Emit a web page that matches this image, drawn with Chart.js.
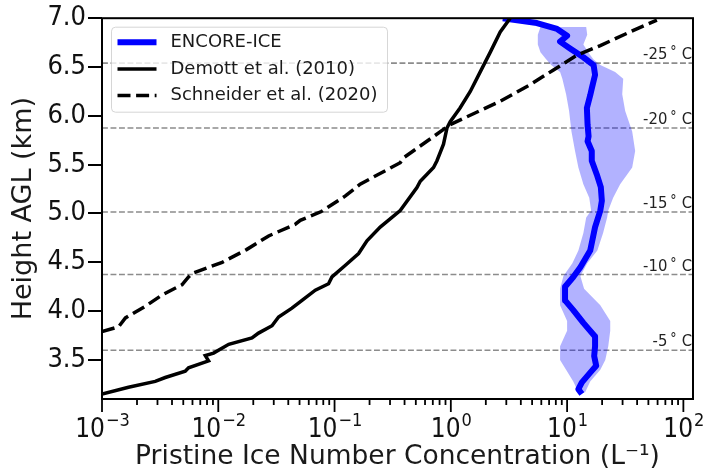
<!DOCTYPE html>
<html>
<head>
<meta charset="utf-8">
<script src="https://cdn.jsdelivr.net/npm/chart.js@4.4.1/dist/chart.umd.min.js"></script>
<style>
  html, body { margin: 0; padding: 0; background: #fff; }
  canvas { display: block; }
</style>
</head>
<body>
<canvas id="chart" width="709" height="473" style="width:709px;height:473px"></canvas>
<script>
const NARROW = "'DejaVu Sans Condensed', 'DejaVu Sans', sans-serif";
const FONT = "'DejaVu Sans', sans-serif";

// ENCORE-ICE median pristine ice profile (height km, concentration per litre)
const encoreHeight = [7.00, 6.95, 6.89, 6.82, 6.76, 6.69, 6.60, 6.52, 6.42, 6.28, 6.21, 6.08, 5.91, 5.79, 5.74, 5.64, 5.54, 5.40, 5.27, 5.13, 5.03, 4.86, 4.62, 4.45, 4.35, 4.25, 4.11, 4.01, 3.88, 3.74, 3.64, 3.54, 3.44, 3.37, 3.27, 3.20, 3.15];
const encoreConc   = [2.8, 5.5, 8.2, 10.0, 8.7, 10.6, 13.8, 16.9, 17.4, 16.3, 15.8, 14.8, 15.0, 15.3, 15.0, 16.3, 16.3, 18.0, 19.5, 19.9, 19.3, 17.4, 15.8, 13.0, 11.3, 9.6, 9.6, 11.3, 13.8, 17.4, 17.4, 17.1, 17.8, 15.8, 13.4, 12.5, 13.4];

// ENCORE-ICE spread (lower / upper bound at each height)
const bandHeight = [6.91, 6.83, 6.73, 6.65, 6.58, 6.52, 6.45, 6.38, 6.22, 6.05, 5.84, 5.64, 5.47, 5.30, 5.16, 5.03, 4.96, 4.80, 4.62, 4.49, 4.36, 4.23, 4.06, 3.90, 3.80, 3.64, 3.50, 3.40, 3.28, 3.17];
const bandLow      = [5.9, 5.6, 5.6, 5.9, 6.6, 7.3, 8.7, 9.1, 9.8, 10.4, 10.9, 11.7, 12.5, 13.8, 15.5, 16.1, 14.6, 13.8, 12.5, 11.1, 9.3, 8.7, 8.7, 10.0, 10.0, 8.7, 8.7, 9.8, 11.3, 12.5];
const bandHigh     = [14.6, 14.9, 13.8, 15.2, 16.8, 19.3, 25.9, 30.4, 29.8, 31.6, 36.3, 38.5, 36.3, 28.6, 24.9, 22.6, 22.1, 20.4, 18.2, 14.9, 13.0, 14.0, 19.3, 23.5, 23.5, 22.6, 21.3, 19.3, 15.8, 14.3];

// DeMott et al. (2010) parameterisation
const demottHeight = [3.15, 3.22, 3.28, 3.32, 3.385, 3.42, 3.49, 3.545, 3.57, 3.66, 3.725, 3.775, 3.85, 3.94, 4.03, 4.11, 4.215, 4.28, 4.35, 4.47, 4.59, 4.72, 4.86, 5.03, 5.265, 5.33, 5.47, 5.54, 5.71, 5.875, 5.94, 6.08, 6.25, 6.45, 6.65, 6.86, 7.00];
const demottConc   = [0.00100, 0.00169, 0.00287, 0.00350, 0.00520, 0.00555, 0.00825, 0.00773, 0.00911, 0.0123, 0.0195, 0.0222, 0.0290, 0.0330, 0.0430, 0.0525, 0.0683, 0.0888, 0.0950, 0.124, 0.161, 0.190, 0.247, 0.367, 0.511, 0.546, 0.710, 0.760, 0.865, 0.926, 0.988, 1.20, 1.47, 1.79, 2.18, 2.66, 3.24];

// Schneider et al. (2020) parameterisation
const schneiderHeight = [3.79, 3.84, 3.93, 4.05, 4.165, 4.27, 4.35, 4.385, 4.50, 4.63, 4.77, 4.89, 4.93, 5.02, 5.18, 5.30, 5.52, 5.57, 5.74, 5.91, 5.99, 6.15, 6.32, 6.47, 6.62, 6.72, 6.875, 6.98];
const schneiderConc   = [0.00100, 0.00139, 0.00159, 0.00236, 0.00328, 0.00487, 0.00555, 0.00594, 0.0108, 0.0175, 0.0271, 0.0460, 0.0507, 0.0770, 0.124, 0.166, 0.367, 0.392, 0.623, 0.988, 1.375, 2.66, 4.82, 7.64, 12.1, 19.3, 37.2, 59.2];

// Isotherm heights
const isothermTemp   = [-25, -20, -15, -10, -5];
const isothermHeight = [6.54, 5.875, 5.015, 4.375, 3.60];

// Axis ranges and ticks
const xMin = 1e-3, xMax = 121;
const yMin = 3.1, yMax = 7.0;
const xDecades = [-3, -2, -1, 0, 1, 2];
const yTickValues = [3.5, 4.0, 4.5, 5.0, 5.5, 6.0, 6.5, 7.0];

const pts = (xs, ys) => xs.map((x, i) => ({ x, y: ys[i] }));

const bandPolygon = pts(bandLow, bandHeight).concat(pts(bandHigh, bandHeight).reverse());

const datasets = [
  {
    label: 'Schneider et al. (2020)', inLegend: 3,
    data: pts(schneiderConc, schneiderHeight),
    borderColor: '#000', borderWidth: 3.5, borderDash: [13, 5.6],
    order: 0, clip: 0
  },
  {
    label: 'Demott et al. (2010)', inLegend: 2,
    data: pts(demottConc, demottHeight),
    borderColor: '#000', borderWidth: 3.5,
    order: 1, clip: 0
  },
  {
    label: 'ENCORE-ICE', inLegend: 1,
    data: pts(encoreConc, encoreHeight),
    borderColor: '#0000ff', borderWidth: 6, borderJoinStyle: 'round',
    order: 2, clip: 0
  },
  {
    label: 'ENCORE-ICE spread',
    data: bandPolygon,
    borderWidth: 0, backgroundColor: 'rgba(0,0,255,0.3)', fill: 'shape',
    order: 3, clip: 0
  }
];
isothermHeight.forEach((h, i) => {
  datasets.push({
    label: isothermTemp[i] + ' °C',
    data: [{ x: xMin, y: h }, { x: xMax, y: h }],
    borderColor: '#8c8c8c', borderWidth: 1.6, borderDash: [5.9, 2.6],
    order: 4, clip: 0
  });
});

// Frame, x ticks with superscript labels, isotherm labels and legend
const decorations = {
  id: 'decorations',
  afterDatasetsDraw(chart) {
    const { ctx, chartArea: ca } = chart;
    const xs = chart.scales.x, ys = chart.scales.y;
    ctx.save();

    // isotherm labels, right aligned against the frame
    isothermHeight.forEach((h, i) => {
      const base = ys.getPixelForValue(h) - 4;
      const right = ca.right - 1;
      ctx.fillStyle = '#222';
      ctx.textBaseline = 'alphabetic';
      ctx.textAlign = 'left';
      ctx.font = `16.5px ${NARROW}`;
      const wC = ctx.measureText('C').width;
      ctx.fillText('C', right - wC, base);
      ctx.font = `14px ${NARROW}`;
      const wD = ctx.measureText('°').width;
      const xD = right - wC - 5 - wD;
      ctx.fillText('°', xD, base - 3);
      ctx.font = `16.5px ${NARROW}`;
      const num = String(isothermTemp[i]);
      const wN = ctx.measureText(num).width;
      ctx.fillText(num, xD - 3 - wN, base);
    });

    // frame
    ctx.strokeStyle = '#000';
    ctx.lineWidth = 2;
    ctx.strokeRect(ca.left, ca.top, ca.right - ca.left, ca.bottom - ca.top);

    // x ticks (major / minor) and decade labels
    ctx.lineWidth = 1.8;
    xs.ticks.forEach(t => {
      const px = xs.getPixelForValue(t.value);
      if (px < ca.left - 0.5 || px > ca.right + 0.5) return;
      const len = t.major ? 13 : 6;
      ctx.beginPath();
      ctx.moveTo(px, ca.bottom);
      ctx.lineTo(px, ca.bottom + len);
      ctx.stroke();
    });
    ctx.fillStyle = '#111';
    ctx.textAlign = 'left';
    ctx.textBaseline = 'alphabetic';
    const baseY = ca.bottom + 37.5;
    xDecades.forEach(d => {
      const px = xs.getPixelForValue(Math.pow(10, d));
      const ex = d < 0 ? '\u2212' + Math.abs(d) : String(d);
      ctx.font = `26px ${NARROW}`;
      const w1 = ctx.measureText('10').width;
      ctx.font = `18px ${NARROW}`;
      const w2 = ctx.measureText(ex).width;
      const x0 = px - (w1 + w2) / 2;
      ctx.font = `26px ${NARROW}`;
      ctx.fillText('10', x0, baseY);
      ctx.font = `18px ${NARROW}`;
      ctx.fillText(ex, x0 + w1 + 1, baseY - 10.5);
    });

    // legend
    const entries = chart.data.datasets.filter(d => d.inLegend).sort((a, b) => a.inLegend - b.inLegend);
    const fs = 18;
    ctx.font = `${fs}px ${FONT}`;
    const maxW = Math.max(...entries.map(e => ctx.measureText(e.label).width));
    const bx = ca.left + 9.5, by = ca.top + 9;
    const bw = 59 + maxW + 10, bh = 85, r = 4;
    ctx.beginPath();
    ctx.moveTo(bx + r, by);
    ctx.lineTo(bx + bw - r, by);
    ctx.arcTo(bx + bw, by, bx + bw, by + r, r);
    ctx.lineTo(bx + bw, by + bh - r);
    ctx.arcTo(bx + bw, by + bh, bx + bw - r, by + bh, r);
    ctx.lineTo(bx + r, by + bh);
    ctx.arcTo(bx, by + bh, bx, by + bh - r, r);
    ctx.lineTo(bx, by + r);
    ctx.arcTo(bx, by, bx + r, by, r);
    ctx.closePath();
    ctx.fillStyle = 'rgba(255,255,255,0.8)';
    ctx.fill();
    ctx.strokeStyle = 'rgba(204,204,204,0.8)';
    ctx.lineWidth = 1;
    ctx.stroke();
    entries.forEach((e, i) => {
      const cy = by + 15 + i * 26.7;
      ctx.beginPath();
      ctx.strokeStyle = e.borderColor;
      ctx.lineWidth = e.borderWidth;
      ctx.setLineDash(e.borderDash || []);
      ctx.moveTo(bx + 6, cy);
      ctx.lineTo(bx + 45, cy);
      ctx.stroke();
      ctx.setLineDash([]);
      ctx.fillStyle = '#1a1a1a';
      ctx.textBaseline = 'middle';
      ctx.font = `${fs}px ${FONT}`;
      ctx.fillText(e.label, bx + 59, cy);
    });
    ctx.restore();
  }
};

Chart.defaults.font.family = FONT;
Chart.defaults.color = '#000';

new Chart(document.getElementById('chart'), {
  type: 'line',
  data: { datasets },
  options: {
    responsive: false,
    animation: false,
    layout: { padding: { top: 16, right: 16, left: 0, bottom: 0 } },
    elements: { point: { radius: 0, hoverRadius: 0 }, line: { tension: 0 } },
    plugins: { legend: { display: false }, tooltip: { enabled: false } },
    events: [],
    scales: {
      x: {
        type: 'logarithmic',
        min: xMin, max: xMax,
        afterBuildTicks(scale) {
          const ticks = [];
          xDecades.forEach(d => {
            for (let m = 1; m <= 9; m++) {
              const v = m * Math.pow(10, d);
              if (v >= xMin * 0.999 && v <= xMax) ticks.push({ value: v, major: m === 1 });
            }
          });
          scale.ticks = ticks;
        },
        afterFit(scale) { scale.height = 74; },
        grid: { display: false, drawTicks: false },
        border: { display: false },
        ticks: { display: false },
        title: {
          display: true,
          text: 'Pristine Ice Number Concentration (L⁻¹)',
          font: { size: 26.5, family: FONT },
          color: '#1a1a1a',
          padding: { top: 0, bottom: 0 }
        }
      },
      y: {
        type: 'linear',
        min: yMin, max: yMax,
        afterBuildTicks(scale) { scale.ticks = yTickValues.map(v => ({ value: v })); },
        afterFit(scale) { scale.width = 102; },
        grid: { display: true, drawOnChartArea: false, drawTicks: true, tickLength: 14, lineWidth: 2, tickWidth: 2, tickColor: '#000' },
        border: { display: false },
        ticks: {
          padding: 2,
          font: { size: 27, family: NARROW },
          color: '#111',
          callback: v => Number(v).toFixed(1)
        },
        title: {
          display: true,
          text: 'Height AGL (km)',
          font: { size: 27, family: FONT },
          color: '#1a1a1a',
          padding: { top: 8, bottom: 0 }
        }
      }
    }
  },
  plugins: [decorations]
});
</script>
</body>
</html>
